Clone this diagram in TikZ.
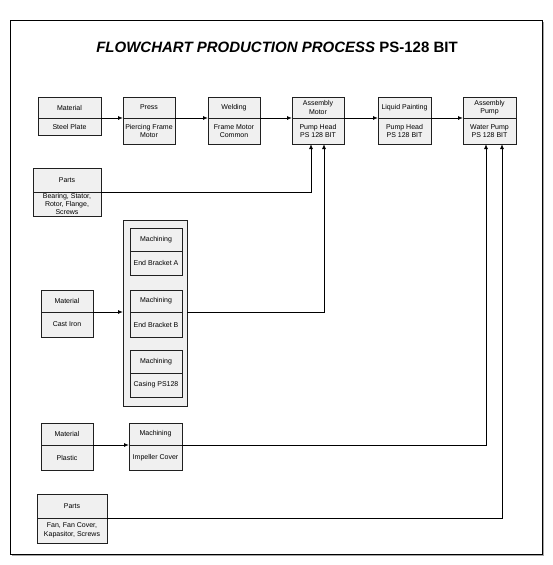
\documentclass[tikz,border=0pt]{standalone}
\usepackage{fontspec}
\setmainfont{Liberation Sans}
\usetikzlibrary{positioning,arrows.meta}
\definecolor{boxfill}{HTML}{F0F0F0}
\definecolor{boxline}{HTML}{202020}
\newcommand{\boxfont}{\fontsize{7}{8.5}\selectfont}
\tikzset{
  hd/.style={draw=boxline, fill=boxfill, line width=0.8pt, inner sep=0pt, outer sep=0pt,
    align=center, font=\boxfont, anchor=north west},
  bd/.style={draw=boxline, fill=boxfill, line width=0.8pt, inner sep=0pt, outer sep=0pt,
    align=center, font=\boxfont},
  arr/.style={draw=black, line width=0.9pt, -{Latex[length=5pt,width=4pt]}}
}
\begin{document}
\begin{tikzpicture}[x=1pt,y=-1pt]
  \useasboundingbox (0,0) rectangle (553,565);
  % frame
  \fill[gray!70] (12,22) rectangle (544,556);
  \draw[fill=white, line width=0.8pt] (10,20) rectangle (542,554);
  \node[font=\fontsize{15}{18}\selectfont\bfseries] (title) at (277,47)
    {\textit{FLOWCHART PRODUCTION PROCESS} PS-128 BIT};

  % main line
  \node[hd, minimum width=63pt, minimum height=21pt] (mat1h) at (38,97) {Material};
  \node[bd, minimum width=63pt, minimum height=17pt, below=0pt of mat1h] (mat1b) {Steel Plate};
  \node[hd, minimum width=52pt, minimum height=21pt] (pressh) at (123,97) {Press};
  \node[bd, minimum width=52pt, minimum height=26pt, below=0pt of pressh] (pressb) {Piercing Frame\\Motor};
  \node[hd, minimum width=52pt, minimum height=21pt] (weldh) at (208,97) {Welding};
  \node[bd, minimum width=52pt, minimum height=26pt, below=0pt of weldh] (weldb) {Frame Motor\\Common};
  \node[hd, minimum width=52pt, minimum height=21pt] (asmmh) at (292,97) {Assembly\\Motor};
  \node[bd, minimum width=52pt, minimum height=26pt, below=0pt of asmmh] (asmmb) {Pump Head\\PS 128 BIT};
  \node[hd, minimum width=53pt, minimum height=21pt] (painth) at (378,97) {Liquid Painting};
  \node[bd, minimum width=53pt, minimum height=26pt, below=0pt of painth] (paintb) {Pump Head\\PS 128 BIT};
  \node[hd, minimum width=53pt, minimum height=21pt] (asmph) at (463,97) {Assembly\\Pump};
  \node[bd, minimum width=53pt, minimum height=26pt, below=0pt of asmph] (asmpb) {Water Pump\\PS 128 BIT};

  % parts for motor
  \node[hd, minimum width=68pt, minimum height=24pt] (parts1h) at (33,168) {Parts};
  \node[bd, minimum width=68pt, minimum height=24pt, below=0pt of parts1h,
    font=\fontsize{7}{7.8}\selectfont] (parts1b) {Bearing, Stator,\\Rotor, Flange,\\Screws};

  % cast iron machining
  \node[hd, minimum width=64pt, minimum height=186pt] (grp) at (123,220) {};
  \node[hd, minimum width=52pt, minimum height=23pt] (ebah) at (130,228) {Machining};
  \node[bd, minimum width=52pt, minimum height=24pt, below=0pt of ebah] (ebab) {End Bracket A};
  \node[hd, minimum width=52pt, minimum height=22pt] (ebbh) at (130,290) {Machining};
  \node[bd, minimum width=52pt, minimum height=25pt, below=0pt of ebbh] (ebbb) {End Bracket B};
  \node[hd, minimum width=52pt, minimum height=23pt] (cash) at (130,350) {Machining};
  \node[bd, minimum width=52pt, minimum height=24pt, below=0pt of cash] (casb) {Casing PS128};
  \node[hd, minimum width=52pt, minimum height=22pt] (mat2h) at (41,290) {Material};
  \node[bd, minimum width=52pt, minimum height=25pt, below=0pt of mat2h] (mat2b) {Cast Iron};

  % plastic machining
  \node[hd, minimum width=52pt, minimum height=22pt] (mat3h) at (41,423) {Material};
  \node[bd, minimum width=52pt, minimum height=25pt, below=0pt of mat3h] (mat3b) {Plastic};
  \node[hd, minimum width=53pt, minimum height=22pt] (imph) at (129,423) {Machining};
  \node[bd, minimum width=53pt, minimum height=25pt, below=0pt of imph] (impb) {Impeller Cover};

  % parts for pump
  \node[hd, minimum width=70pt, minimum height=24pt] (parts2h) at (37,494) {Parts};
  \node[bd, minimum width=70pt, minimum height=25pt, below=0pt of parts2h] (parts2b) {Fan, Fan Cover,\\Kapasitor, Screws};

  % inlets
  \coordinate (asmmin1) at (311,144);
  \coordinate (asmmin2) at (324,144);
  \coordinate (asmpin1) at (486,144);
  \coordinate (asmpin2) at (502,144);

  % connectors
  \draw[arr] (mat1h.south east) -- (pressh.south west);
  \draw[arr] (pressh.south east) -- (weldh.south west);
  \draw[arr] (weldh.south east) -- (asmmh.south west);
  \draw[arr] (asmmh.south east) -- (painth.south west);
  \draw[arr] (painth.south east) -- (asmph.south west);
  \draw[arr] (parts1h.south east) -| (asmmin1);
  \draw[arr] (mat2h.south east) -- (mat2h.south east -| grp.west);
  \draw[arr] (ebbh.south -| grp.east) -| (asmmin2);
  \draw[arr] (mat3h.south east) -- (imph.south west);
  \draw[arr] (imph.south east) -| (asmpin1);
  \draw[arr] (parts2h.south east) -| (asmpin2);
\end{tikzpicture}
\end{document}
